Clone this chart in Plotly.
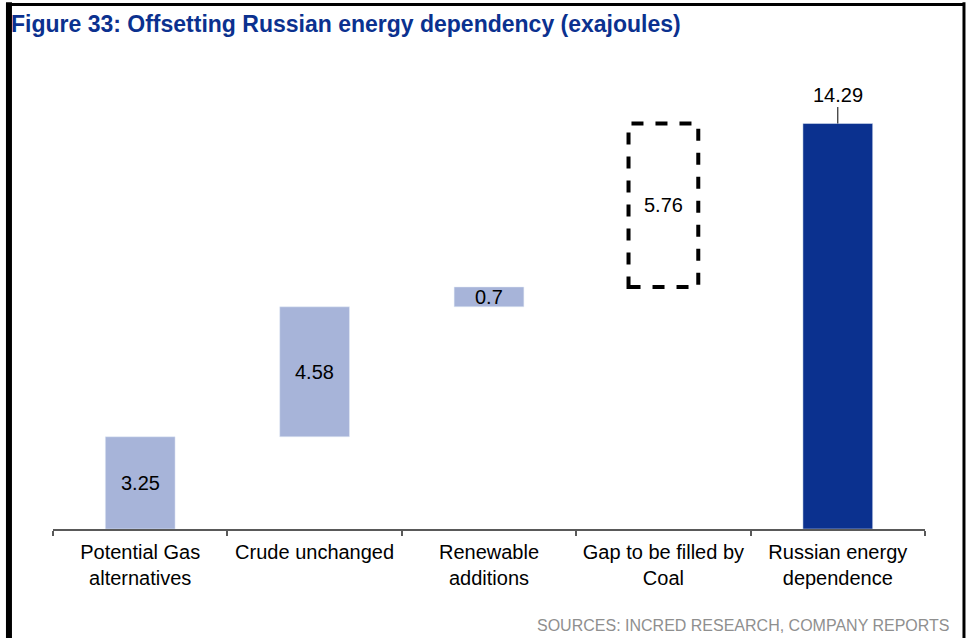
import plotly.graph_objects as go

# data (exajoules)
categories = ["Potential Gas<br>alternatives", "Crude unchanged", "Renewable<br>additions",
              "Gap to be filled by<br>Coal", "Russian energy<br>dependence"]
steps = [3.25, 4.58, 0.7, 5.76]
total = 14.29

light = "#A7B4D9"
dark = "#0B318F"
font = "Liberation Sans, Arial, sans-serif"

# cumulative bases for the waterfall
bases = []
run = 0
for v in steps:
    bases.append(run)
    run += v

fig = go.Figure()

# floating steps (the coal gap is drawn as a dashed box instead)
fig.add_trace(go.Bar(x=categories[:3], y=steps[:3], base=bases[:3],
                     marker_color=light, width=0.4, hoverinfo="skip"))
fig.add_trace(go.Bar(x=[categories[4]], y=[total], marker_color=dark,
                     width=0.4, hoverinfo="skip"))

# dashed box for the gap
fig.add_shape(type="rect", xref="x", yref="y", x0=3 - 0.2, x1=3 + 0.2,
              y0=bases[3], y1=bases[3] + steps[3],
              line=dict(color="black", width=4, dash="dash"))

# value labels in the middle of each step
for i, v in enumerate(steps):
    fig.add_annotation(x=categories[i], y=bases[i] + v / 2, text=str(v), showarrow=False,
                       font=dict(size=20, color="black", family=font))

fig.add_annotation(x=categories[4], y=total, text=str(total), showarrow=True,
                   arrowhead=0, arrowwidth=1, arrowcolor="black", ax=0, ay=-29,
                   font=dict(size=20, color="black", family=font))

# frame around the figure
fig.add_shape(type="line", xref="paper", yref="paper", x0=-0.0505, x1=-0.0505,
              y0=1.16, y1=-0.26, line=dict(color="black", width=6))
fig.add_shape(type="line", xref="paper", yref="paper", x0=-0.0505, x1=1.0447,
              y0=1.1553, y1=1.1553, line=dict(color="black", width=3))
fig.add_shape(type="line", xref="paper", yref="paper", x0=1.0447, x1=1.0447,
              y0=1.16, y1=-0.26, line=dict(color="black", width=3))

fig.add_annotation(xref="paper", yref="paper", x=1.031, y=-0.2115, xanchor="right",
                   yanchor="middle", showarrow=False,
                   text="SOURCES: INCRED RESEARCH, COMPANY REPORTS",
                   font=dict(size=16, color="#8F8F8F", family=font))

fig.update_layout(
    width=971, height=638,
    margin=dict(l=53, r=46, t=75, b=109),
    plot_bgcolor="white", paper_bgcolor="white",
    showlegend=False, barmode="overlay",
    title=dict(text="<b>Figure 33: Offsetting Russian energy dependency (exajoules)</b>",
               x=11 / 971, xanchor="left", xref="container",
               y=1 - 24 / 638, yanchor="middle", yref="container",
               font=dict(size=23, color=dark, family=font)),
    font=dict(family=font, color="black"),
)
fig.update_xaxes(showline=True, linecolor="#595959", linewidth=1.5,
                 categoryorder="array", categoryarray=categories,
                 ticks="outside", tickson="boundaries", ticklen=5, tickcolor="#595959",
                 tickwidth=1.5, ticklabelstandoff=4,
                 tickfont=dict(size=20, color="black", family=font),
                 showgrid=False)
fig.update_yaxes(range=[0, 16], visible=False, showgrid=False)

# drop the default page margin so the figure sits at the window corner
fig.write_html("out.html", config={"displayModeBar": False},
               post_script="document.body.style.margin='0';")
